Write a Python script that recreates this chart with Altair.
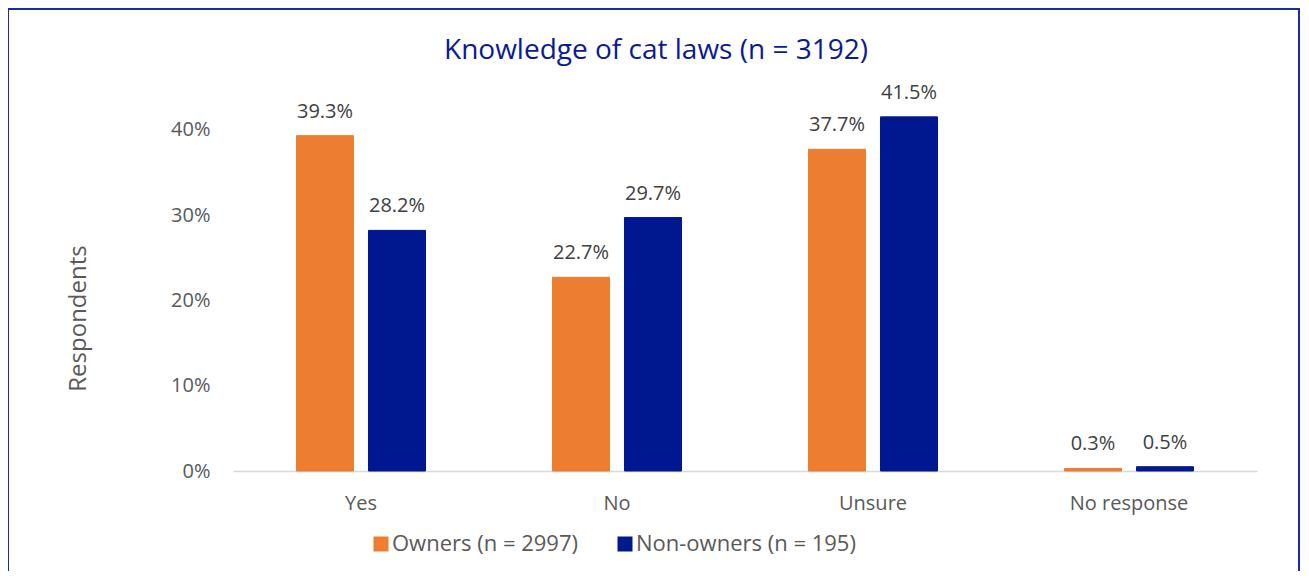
import altair as alt
import pandas as pd

categories = ["Yes", "No", "Unsure", "No response"]
groups = ["Owners (n = 2997)", "Non-owners (n = 195)"]
owners = [0.393, 0.227, 0.377, 0.003]
non_owners = [0.282, 0.297, 0.415, 0.005]
y_ticks = [0, 0.1, 0.2, 0.3, 0.4]

rows = []
for c, o, n in zip(categories, owners, non_owners):
    rows.append({"cat": c, "group": groups[0], "val": o})
    rows.append({"cat": c, "group": groups[1], "val": n})
df = pd.DataFrame(rows)

FONT = "Open Sans"
ORANGE = "#ED7D31"
BLUE = "#00188F"
GRAY = "#595959"

x = alt.X("cat:N", sort=categories, title=None,
          scale=alt.Scale(paddingInner=0, paddingOuter=0),
          axis=alt.Axis(labelAngle=0, labelFontSize=20, labelFont=FONT, labelColor=GRAY,
                        ticks=False, domainColor="#D9D9D9", domainWidth=1.5,
                        labelPadding=22, grid=False))
xo = alt.XOffset("group:N", sort=groups,
                 scale=alt.Scale(paddingInner=0.2083, paddingOuter=0.882))
y = alt.Y("val:Q", title="Respondents",
          scale=alt.Scale(domain=[0, 0.45], nice=False),
          axis=alt.Axis(values=y_ticks, format=".0%", labelFontSize=20, labelFont=FONT,
                        labelColor=GRAY, ticks=False, domain=False, grid=False,
                        labelPadding=23, titleFont=FONT, titleFontSize=24,
                        titleFontWeight="normal", titleColor=GRAY, titleX=-155,
                        titleY=231, titleAngle=-90, titleBaseline="middle",
                        titleAlign="center"))
color_scale = alt.Scale(domain=groups, range=[ORANGE, BLUE])
color = alt.Color("group:N", sort=groups, scale=color_scale,
                  legend=alt.Legend(orient="none", legendX=137, legendY=446,
                                    direction="horizontal", title=None,
                                    symbolType="square", symbolSize=225,
                                    symbolStrokeWidth=0, symbolOpacity=1,
                                    labelFontSize=22, labelFont=FONT, labelColor=GRAY,
                                    labelLimit=400, labelOffset=0, columnPadding=36))

bars = alt.Chart(df).mark_bar(strokeWidth=1).encode(
    x=x, xOffset=xo, y=y, color=color,
    stroke=alt.Color("group:N", sort=groups, legend=None, scale=color_scale))
labels = alt.Chart(df).mark_text(fontSize=20, font=FONT, color="#404040",
                                 baseline="alphabetic", dy=-18).encode(
    x=x, xOffset=xo, y=y, text=alt.Text("val:Q", format=".1%"))

frame = alt.Chart(df).mark_rect(fill=None, stroke="#1A2CA0", strokeWidth=2).encode(
    x=alt.value(-225), x2=alt.value(1066), y=alt.value(-78), y2=alt.value(700))

chart = alt.layer(bars, labels, frame).properties(
    width=1024, height=384,
    title=alt.TitleParams("Knowledge of cat laws (n = 3192)", font=FONT, fontSize=28,
                          fontWeight="normal", color="#0A1A96", anchor="middle",
                          frame="group", dx=-89, dy=79, offset=0, baseline="alphabetic"),
    autosize=alt.AutoSizeParams(type="none"),
    padding={"left": 225, "top": 79, "right": 44, "bottom": 100},
).configure(background="white").configure_view(strokeWidth=0)

chart.save("out.html", embed_options={"renderer": "svg", "actions": False})
